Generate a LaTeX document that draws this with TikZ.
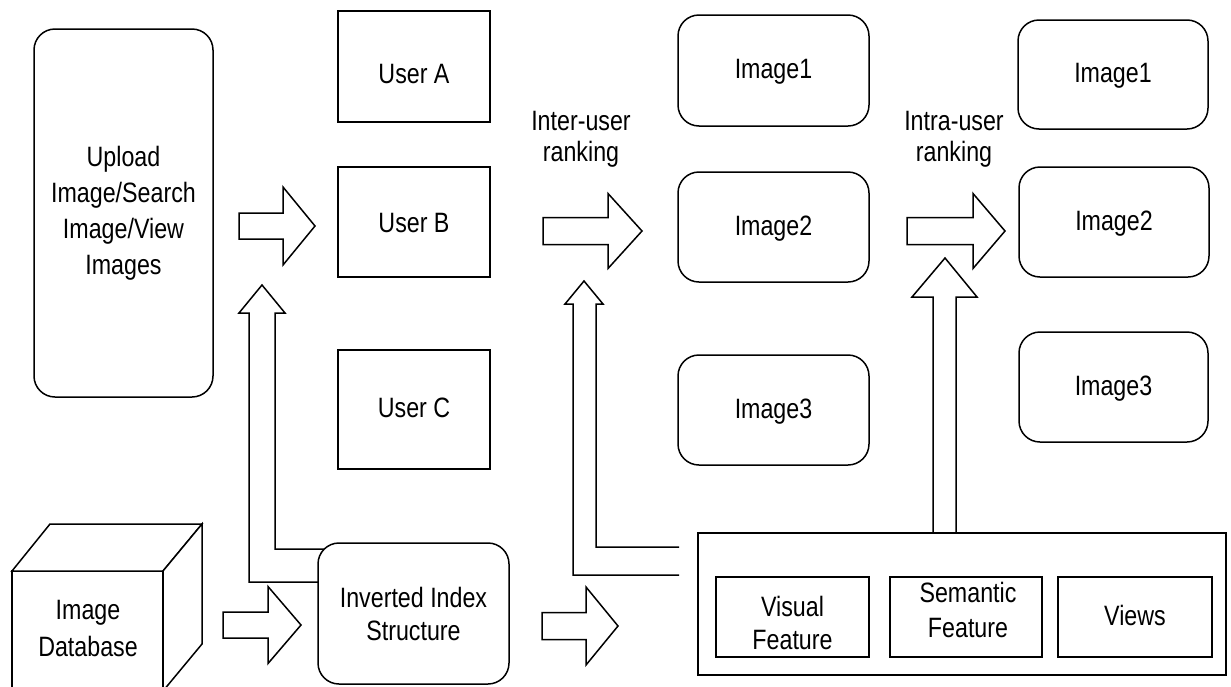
\documentclass[tikz,border=0pt]{standalone}
\usepackage{fontspec}
\setmainfont{Liberation Sans}[FakeStretch=0.83]
\newcommand{\rblk}[6]{%
  \draw[blk] (#1,#4-#5) -- (#2,#4-#5) -- (#2,#4-#6) -- (#3,#4) -- (#2,#4+#6) -- (#2,#4+#5) -- (#1,#4+#5) -- cycle;}
\begin{document}
\begin{tikzpicture}[x=1pt,y=-1pt,
  every node/.style={inner sep=0pt, outer sep=0pt},
  box/.style={draw, line width=1.5pt, fill=white, font=\fontsize{28}{33}\selectfont, align=center},
  rbox/.style={box, rounded corners=21pt},
  one/.style={text height=20pt, text depth=4pt},
  blk/.style={draw, line width=1.5pt, fill=white, line join=miter},
  txt/.style={font=\fontsize{28}{#1}\selectfont, align=center},
  txt/.default=33]
\useasboundingbox (0,0) rectangle (1231,686);
\clip (0,0) rectangle (1231,686);
\fill[white] (0,0) rectangle (1231,686);

% bent arrows (drawn first, boxes cover their ends)
\draw[blk] (326,582) -- (249,582) -- (249,313) -- (239,313) -- (262,285) -- (285,313) -- (275,313) -- (275,549) -- (326,549);
\draw[blk] (679,575) -- (573,575) -- (573,304) -- (565,304) -- (584,281) -- (603,304) -- (596,304) -- (596,547) -- (679,547);
\draw[blk] (933,534) -- (933,297) -- (912,297) -- (945,258) -- (977,297) -- (956,297) -- (956,534);

% left column
\node[rbox, minimum width=179pt, minimum height=368pt, font=\fontsize{28}{36}\selectfont] (upload) at (123.5,213) {Upload\\Image/Search\\Image/View\\Images};

% users
\node[box, minimum width=152pt, minimum height=111pt, text height=34pt, text depth=0pt] (ua) at (414,66.5) {User A};
\node[box, minimum width=152pt, minimum height=110pt, text height=20pt, text depth=0pt] (ub) at (414,222) {User B};
\node[box, one, minimum width=152pt, minimum height=119pt] (uc) at (414,409.5) {User C};

% images, inter-user result
\node[rbox, one, minimum width=191pt, minimum height=111pt] (ia) at (773.5,70.5) {Image1};
\node[rbox, one, minimum width=191pt, minimum height=110pt] (ib) at (773.5,227) {Image2};
\node[rbox, one, minimum width=191pt, minimum height=110pt] (ic) at (773.5,410) {Image3};

% images, intra-user result
\node[rbox, one, minimum width=190pt, minimum height=109pt] (ja) at (1113,74.5) {Image1};
\node[rbox, one, minimum width=190pt, minimum height=110pt] (jb) at (1114,222) {Image2};
\node[rbox, one, minimum width=189pt, minimum height=110pt] (jc) at (1113.5,387) {Image3};

% labels
\node[txt=31] (inter) at (581,139.5) {Inter-user\\ranking};
\node[txt=31] (intra) at (954,139.5) {Intra-user\\ranking};

% database cube
\draw[blk] (12,571) rectangle (163,691);
\draw[blk] (12,571) -- (50,524) -- (202,524) -- (163,571) -- cycle;
\draw[blk] (163,571) -- (202,524) -- (202,644) -- (163,691) -- cycle;
\node[txt=37] (db) at (88,628.5) {Image\\Database};

% inverted index
\node[rbox, minimum width=191pt, minimum height=141pt] (inv) at (413.5,613.5) {Inverted Index\\Structure};

% feature box
\node[box, minimum width=528pt, minimum height=142pt] (feat) at (962,604) {};
\node[box, minimum width=153pt, minimum height=80pt] (vf) at (792.5,617) {};
\node[box, minimum width=152pt, minimum height=80pt] (sf) at (966,617) {};
\node[box, one, minimum width=154pt, minimum height=80pt] (vw) at (1135,617) {Views};
\node[txt=33] (vft) at (792.5,623) {Visual\\Feature};
\node[txt=35] (sft) at (968,609.5) {Semantic\\Feature};

% block arrows
\rblk{239}{283}{315}{226}{13}{39}
\rblk{543}{608}{642}{231}{13.5}{37.5}
\rblk{907}{973}{1005}{231}{13.5}{37.5}
\rblk{223}{268}{301}{625}{13}{38.5}
\rblk{542}{586}{618}{626}{13.5}{39}
\end{tikzpicture}
\end{document}
